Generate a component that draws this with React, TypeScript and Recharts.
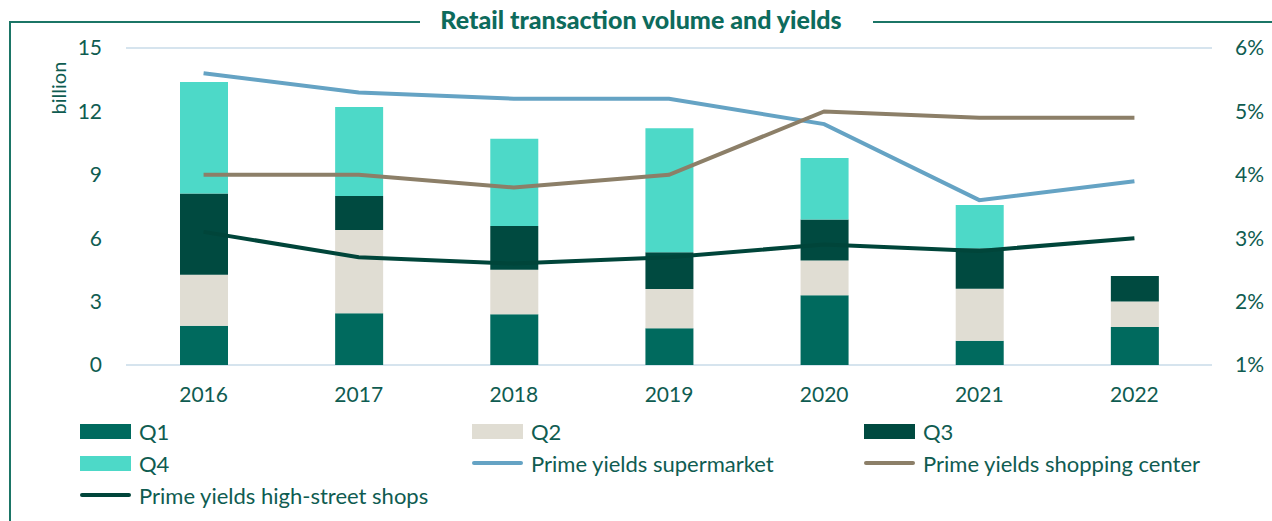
import React from 'react';
import { ComposedChart, Bar, Line, XAxis, YAxis, CartesianGrid } from 'recharts';

const years = ['2016', '2017', '2018', '2019', '2020', '2021', '2022'];
const q1 = [1.86, 2.45, 2.4, 1.74, 3.3, 1.15, 1.8];
const q2 = [2.41, 3.94, 2.11, 1.86, 1.65, 2.46, 1.2];
const q3 = [3.84, 1.61, 2.07, 1.73, 1.94, 1.91, 1.21];
const q4 = [5.28, 4.21, 4.12, 5.87, 2.91, 2.05, 0];
const supermarket = [5.6, 5.3, 5.2, 5.2, 4.8, 3.6, 3.9];
const shoppingCenter = [4.0, 4.0, 3.8, 4.0, 5.0, 4.9, 4.9];
const highStreet = [3.1, 2.7, 2.6, 2.7, 2.9, 2.8, 3.0];
const leftTicks = [0, 3, 6, 9, 12, 15];
const rightTicks = [1, 2, 3, 4, 5, 6];

const data = years.map((y, i) => ({
  year: y,
  q1: q1[i],
  q2: q2[i],
  q3: q3[i],
  q4: q4[i],
  supermarket: supermarket[i],
  shopping: shoppingCenter[i],
  high: highStreet[i],
}));

const TEXT = '#0F5C51';
const FONT = 'Lato, "Open Sans", sans-serif';

const legendItems = [
  { label: 'Q1', color: '#006A5E', type: 'bar' },
  { label: 'Q2', color: '#E0DDD3', type: 'bar' },
  { label: 'Q3', color: '#004A40', type: 'bar' },
  { label: 'Q4', color: '#4DD9C8', type: 'bar' },
  { label: 'Prime yields supermarket', color: '#65A3C4', type: 'line' },
  { label: 'Prime yields shopping center', color: '#8C7F68', type: 'line' },
  { label: 'Prime yields high-street shops', color: '#00453A', type: 'line' },
];

const LegendBlock = () => (
  <div
    style={{
      position: 'absolute',
      left: 80,
      top: 415,
      display: 'grid',
      gridTemplateColumns: '392px 392px 392px',
      gridAutoRows: '32px',
      fontFamily: FONT,
      fontSize: 22,
      color: TEXT,
    }}
  >
    {legendItems.map((it) => (
      <div key={it.label} style={{ display: 'flex', alignItems: 'center', whiteSpace: 'nowrap' }}>
        <span
          style={{
            display: 'inline-block',
            width: 51,
            height: it.type === 'bar' ? 15 : 4,
            borderRadius: it.type === 'bar' ? 0 : 2,
            background: it.color,
            marginRight: 8,
          }}
        />
        {it.label}
      </div>
    ))}
  </div>
);

export default function App() {
  return (
    <div style={{ position: 'absolute', left: 0, top: 0, width: 1272, height: 521, background: '#fff', fontFamily: FONT }}>
      <svg width={1272} height={521} style={{ position: 'absolute', left: 0, top: 0 }}>
        <line x1={10} y1={22} x2={420} y2={22} stroke="#1B7566" strokeWidth={2} />
        <line x1={873} y1={22} x2={1272} y2={22} stroke="#1B7566" strokeWidth={2} />
        <line x1={10} y1={21} x2={10} y2={521} stroke="#1B7566" strokeWidth={2} />
        <text x={641} y={29} textAnchor="middle" fontFamily={FONT} fontWeight={900} fontSize={25} fill="#0D6B5C">
          Retail transaction volume and yields
        </text>
      </svg>
      <div style={{ position: 'absolute', left: 0, top: 0 }}>
        <ComposedChart
          width={1272}
          height={521}
          data={data}
          margin={{ top: 48, right: 10, left: 66, bottom: 126 }}
          barSize={48}
        >
          <CartesianGrid vertical={false} stroke="#D6E4EE" strokeWidth={2} />
          <XAxis
            dataKey="year"
            height={30}
            axisLine={false}
            tickLine={false}
            tickMargin={16}
            tick={{ fill: TEXT, fontSize: 21, fontFamily: FONT }}
          />
          <YAxis
            yAxisId="left"
            width={60}
            domain={[0, 15]}
            ticks={leftTicks}
            axisLine={false}
            tickLine={false}
            tickMargin={18}
            tick={{ fill: TEXT, fontSize: 21, fontFamily: FONT }}
            label={{
              content: () => (
                <text
                  x={58}
                  y={88}
                  transform="rotate(-90 58 88)"
                  textAnchor="middle"
                  dominantBaseline="central"
                  fill={TEXT}
                  fontSize={20}
                  fontFamily={FONT}
                >
                  billion
                </text>
              ),
            }}
          />
          <YAxis
            yAxisId="right"
            orientation="right"
            width={50}
            domain={[1, 6]}
            ticks={rightTicks}
            axisLine={false}
            tickLine={false}
            tickMargin={17}
            tickFormatter={(v) => `${v}%`}
            tick={{ fill: TEXT, fontSize: 21, fontFamily: FONT, textAnchor: 'start' }}
          />
          <Bar yAxisId="left" dataKey="q1" stackId="a" fill="#006A5E" isAnimationActive={false} />
          <Bar yAxisId="left" dataKey="q2" stackId="a" fill="#E0DDD3" isAnimationActive={false} />
          <Bar yAxisId="left" dataKey="q3" stackId="a" fill="#004A40" isAnimationActive={false} />
          <Bar yAxisId="left" dataKey="q4" stackId="a" fill="#4DD9C8" isAnimationActive={false} />
          <Line yAxisId="right" dataKey="supermarket" stroke="#65A3C4" strokeWidth={4} dot={false} isAnimationActive={false} />
          <Line yAxisId="right" dataKey="shopping" stroke="#8C7F68" strokeWidth={4} dot={false} isAnimationActive={false} />
          <Line yAxisId="right" dataKey="high" stroke="#00453A" strokeWidth={4} dot={false} isAnimationActive={false} />
        </ComposedChart>
      </div>
      <LegendBlock />
    </div>
  );
}
